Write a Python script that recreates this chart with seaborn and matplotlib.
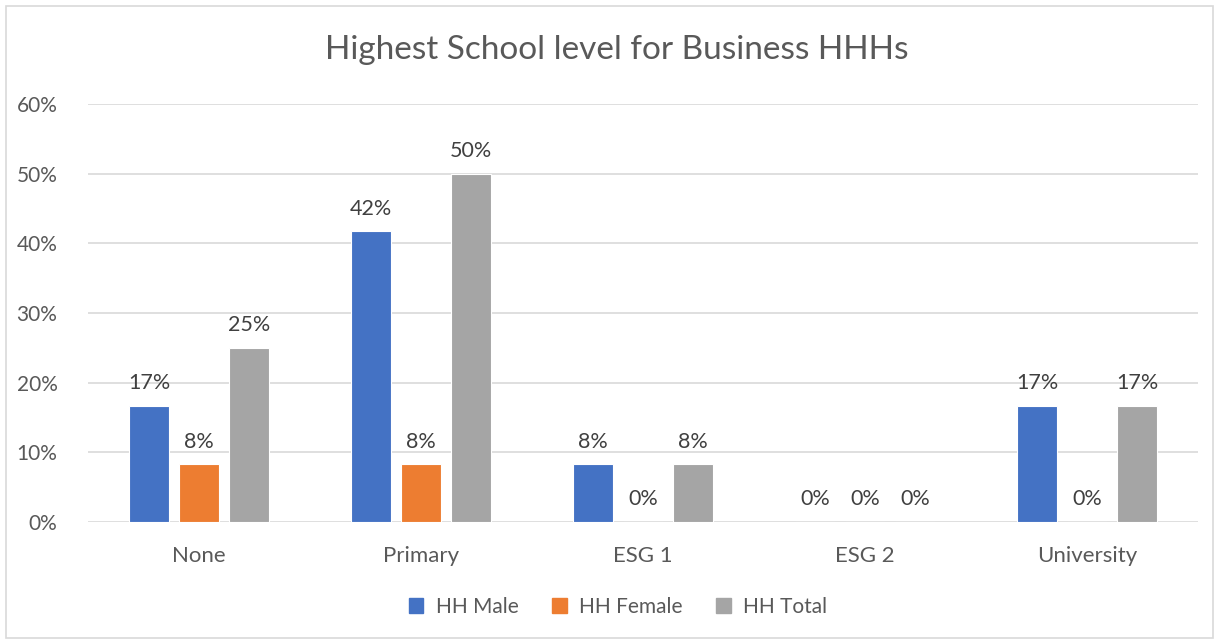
import seaborn as sns
import matplotlib.pyplot as plt
import pandas as pd
from matplotlib.patches import Rectangle

# data (fractions)
levels = ['None', 'Primary', 'ESG 1', 'ESG 2', 'University']
series = ['HH Male', 'HH Female', 'HH Total']
male = [0.167, 0.417, 0.083, 0.0, 0.167]
female = [0.083, 0.083, 0.0, 0.0, 0.0]
total = [0.25, 0.50, 0.083, 0.0, 0.167]
y_ticks = [0, 0.1, 0.2, 0.3, 0.4, 0.5, 0.6]
colors = ['#4472C4', '#ED7D31', '#A5A5A5']

df = pd.DataFrame({
    'level': levels * 3,
    'group': [s for s in series for _ in levels],
    'share': male + female + total,
})

sns.set_style('white')
plt.rcParams['font.family'] = ['Lato', 'DejaVu Sans']
text_col = '#595959'

fig = plt.figure(figsize=(12.19, 6.42), dpi=100)
ax = fig.add_axes([0.0722, 0.187, 0.9108, 0.651])

sns.barplot(data=df, x='level', y='share', hue='group', order=levels,
            hue_order=series, palette=colors, saturation=1, width=0.675, gap=0.2,
            edgecolor='white', linewidth=0.8, ax=ax)

for cont in ax.containers:
    ax.bar_label(cont, labels=[f'{b.get_height():.0%}' for b in cont],
                 padding=9, fontsize=15.5, color='#404040')

ax.set_ylim(0, 0.6)
ax.set_yticks(y_ticks)
ax.set_yticklabels([f'{t:.0%}' for t in y_ticks])
ax.set_xlim(-0.5, 4.5)
ax.grid(axis='y', color='#D9D9D9', linewidth=1.2)
ax.set_axisbelow(True)
sns.despine(ax=ax, left=True, bottom=True, top=True, right=True)
ax.tick_params(axis='both', length=0, colors=text_col)
ax.tick_params(axis='y', pad=22, labelsize=15)
ax.tick_params(axis='x', pad=17, labelsize=16)
ax.set_xlabel('')
ax.set_ylabel('')

fig.text(0.506, 0.922, 'Highest School level for Business HHHs',
         ha='center', va='center', fontsize=24, color=text_col)

ax.get_legend().remove()
handles = [Rectangle((0, 0), 1, 1, color=c) for c in colors]
fig.legend(handles, series, loc='center', bbox_to_anchor=(0.507, 0.055),
           ncol=3, frameon=False, fontsize=15, labelcolor=text_col,
           handlelength=0.7, handleheight=0.7, handletextpad=0.6,
           columnspacing=1.6)

fig.patches.append(Rectangle((0.005, 0.006), 0.99, 0.985, transform=fig.transFigure,
                             fill=False, edgecolor='#D9D9D9', linewidth=1.2))

fig.savefig('out.png', dpi=100, facecolor='white')
